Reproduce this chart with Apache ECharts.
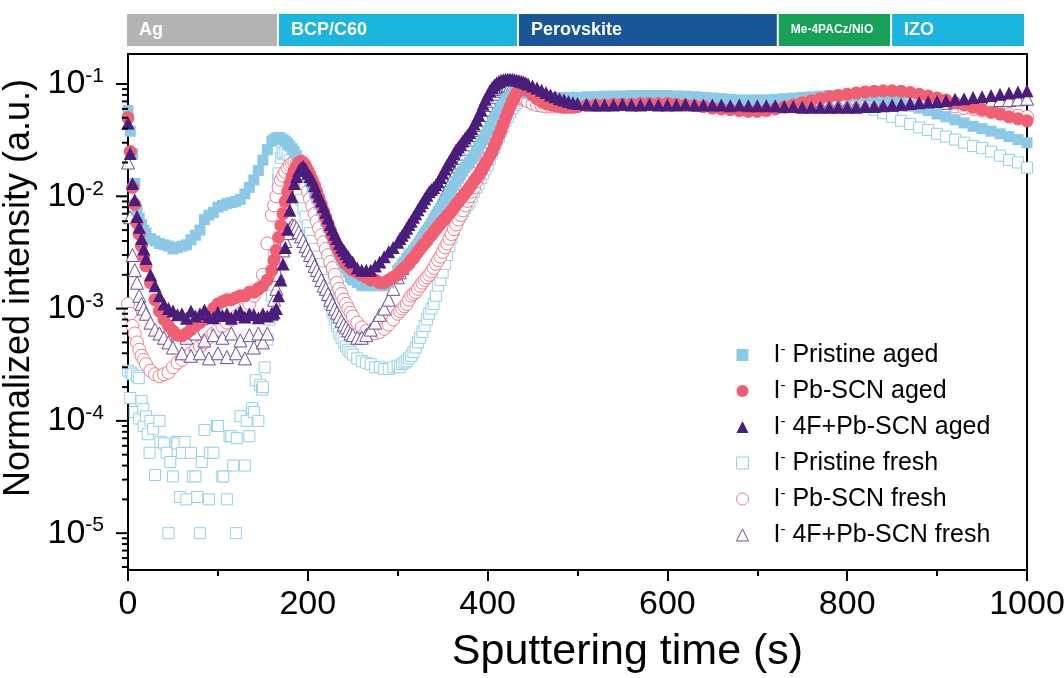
<!DOCTYPE html>
<html><head><meta charset="utf-8">
<script src="https://cdn.jsdelivr.net/npm/echarts@6/dist/echarts.min.js"></script>
<style>html,body{margin:0;padding:0;background:#fff}#c{width:1064px;height:678px}</style>
</head><body><div id="c"></div>
<script>
// ---------- data ----------
const times = [
0,5,10,15,20,25,30,35,40,45,
50,55,60,65,70,75,80,85,90,95,
100,105,110,115,120,125,130,135,140,145,
150,155,160,165,170,175,180,185,190,195,
200,205,210,215,220,225,230,235,240,245,
250,255,260,265,270,275,280,285,290,295,
300,305,310,315,320,325,330,335,340,345,
350,355,360,365,370,375,380,385,390,395,
400,405,410,415,420,425,430,435,440,445,
450,455,460,465,470,475,480,485,490,495,
500,
510,520,530,540,550,560,570,580,590,600,
610,620,630,640,650,660,670,680,690,700,
710,720,730,740,750,760,770,780,790,800,
810,820,830,840,850,860,870,880,890,900,
910,920,930,940,950,960,970,980,990,1000];

// additional sample times inside the steep parts
const midTimes = [2.5,7.5,12.5,17.5,
162.5,167.5,172.5,177.5,182.5,187.5,192.5,197.5,202.5,207.5,212.5,217.5,222.5,227.5,232.5,237.5,242.5,247.5,
302.5,307.5,312.5,317.5,322.5,327.5,332.5,337.5,342.5,347.5,352.5,357.5,362.5,367.5,372.5,377.5,382.5,387.5,392.5,397.5,402.5,407.5,412.5,417.5,422.5,427.5,432.5,437.5,442.5];

const pristineAged = [
0.058,0.024,0.0075,0.0056,0.0047,0.0042,0.004,0.0038,0.0037,0.0036,
0.0034,0.0035,0.0036,0.0037,0.0041,0.0045,0.005,0.0062,0.0068,0.0072,
0.008,0.0083,0.0086,0.0088,0.009,0.0094,0.0105,0.012,0.014,0.017,
0.021,0.026,0.031,0.033,0.033,0.031,0.028,0.025,0.021,0.018,
0.015,0.012,0.0095,0.0075,0.006,0.0047,0.0037,0.003,0.0025,0.0021,
0.0018,0.0017,0.0016,0.0016,0.0016,0.0016,0.0016,0.0016,0.0017,0.0019,
0.0022,0.0025,0.0028,0.0031,0.0035,0.004,0.0046,0.0053,0.0062,0.0072,
0.0084,0.0098,0.0115,0.0135,0.0155,0.018,0.02,0.023,0.027,0.032,
0.038,0.045,0.053,0.062,0.071,0.078,0.083,0.086,0.085,0.082,
0.079,0.077,0.076,0.076,0.075,0.075,0.075,0.075,0.076,0.076,
0.076,
0.077,0.077,0.078,0.078,0.078,0.079,0.079,0.079,0.079,0.079,
0.078,0.078,0.077,0.076,0.075,0.074,0.073,0.072,0.072,0.072,
0.072,0.073,0.074,0.075,0.076,0.077,0.078,0.079,0.079,0.078,
0.078,0.078,0.077,0.075,0.072,0.069,0.065,0.061,0.058,0.054,
0.051,0.048,0.045,0.042,0.04,0.038,0.036,0.034,0.032,0.03];
const pristineAgedMid = [0.038,0.013,0.0064,0.005,
0.032,0.0335,0.032,0.0295,0.0265,0.023,0.0195,0.0165,0.0135,0.0107,0.0085,0.0067,0.0053,0.0042,0.0033,0.0027,0.0023,0.0019,
0.0023,0.0026,0.003,0.0033,0.0037,0.0043,0.0049,0.0057,0.0067,0.0078,0.009,0.0106,0.0125,0.0145,0.0167,0.019,0.0215,0.025,0.0295,0.035,0.041,0.049,0.057,0.066,0.075,0.081,0.085,0.086,0.084];

const pbScnAged = [
0.05,0.012,0.0058,0.0036,0.0024,0.0017,0.0012,0.00095,0.0008,0.0007,
0.00063,0.00058,0.00057,0.0006,0.00065,0.0007,0.00075,0.0008,0.0009,0.001,
0.0011,0.00115,0.0012,0.0012,0.00125,0.0013,0.0013,0.0014,0.0014,0.0015,
0.0016,0.0018,0.0022,0.0033,0.0055,0.009,0.013,0.017,0.02,0.02,
0.017,0.014,0.011,0.0085,0.0065,0.005,0.0039,0.0032,0.0027,0.0024,
0.0022,0.0021,0.002,0.0019,0.0018,0.0018,0.0017,0.0017,0.0018,0.0019,
0.002,0.0022,0.0024,0.0027,0.003,0.0034,0.0038,0.0043,0.0048,0.0054,
0.006,0.0067,0.0074,0.0084,0.0095,0.0107,0.012,0.0137,0.0155,0.018,
0.021,0.025,0.031,0.039,0.05,0.063,0.077,0.087,0.09,0.087,
0.08,0.074,0.07,0.067,0.065,0.064,0.063,0.062,0.062,0.062,
0.063,
0.064,0.065,0.065,0.066,0.066,0.066,0.067,0.067,0.067,0.067,
0.066,0.065,0.064,0.063,0.061,0.06,0.059,0.058,0.057,0.057,
0.058,0.06,0.062,0.065,0.068,0.071,0.074,0.077,0.079,0.081,
0.083,0.085,0.086,0.087,0.087,0.086,0.084,0.081,0.078,0.075,
0.072,0.068,0.065,0.062,0.059,0.056,0.054,0.051,0.049,0.047];
const pbScnAgedMid = [0.025,0.0085,0.0046,0.0029,
0.0027,0.0043,0.007,0.011,0.015,0.0185,0.0205,0.0187,0.0155,0.0125,0.0097,0.0074,0.0057,0.0044,0.0035,0.0029,0.0025,0.0023,
0.0021,0.0023,0.0025,0.0028,0.0032,0.0036,0.004,0.0045,0.0051,0.0057,0.0063,0.007,0.0079,0.0089,0.01,0.0113,0.0128,0.0146,0.0167,0.0195,0.023,0.028,0.035,0.044,0.056,0.07,0.083,0.089,0.089];

const fourFAged = [
0.045,0.013,0.0066,0.0042,0.0028,0.002,0.0016,0.0013,0.0011,0.001,
0.00095,0.00088,0.0009,0.00082,0.00095,0.00086,0.0009,0.00097,0.00085,0.00083,
0.00093,0.00087,0.0009,0.00082,0.00088,0.00094,0.00084,0.0009,0.00088,0.00083,
0.0009,0.00086,0.0009,0.001,0.0018,0.0035,0.0075,0.013,0.017,0.0185,
0.016,0.014,0.011,0.0091,0.0072,0.0056,0.0046,0.0038,0.0033,0.0029,
0.0026,0.0023,0.0022,0.0022,0.0022,0.0024,0.0026,0.0029,0.0032,0.0035,
0.0039,0.0045,0.0052,0.006,0.007,0.0082,0.0095,0.011,0.012,0.0135,
0.016,0.019,0.022,0.026,0.029,0.033,0.037,0.044,0.053,0.066,
0.08,0.093,0.102,0.108,0.11,0.11,0.109,0.107,0.104,0.1,
0.096,0.092,0.088,0.084,0.08,0.077,0.074,0.072,0.07,0.068,
0.067,
0.066,0.065,0.065,0.065,0.066,0.065,0.065,0.066,0.065,0.065,
0.065,0.066,0.065,0.065,0.065,0.065,0.064,0.065,0.064,0.064,
0.064,0.064,0.063,0.063,0.062,0.062,0.062,0.062,0.062,0.062,
0.062,0.063,0.063,0.064,0.065,0.066,0.067,0.068,0.069,0.07,
0.071,0.073,0.074,0.076,0.077,0.079,0.081,0.083,0.085,0.087];
const fourFAgedMid = [0.024,0.0093,0.0053,0.0034,
0.00092,0.0013,0.0025,0.0051,0.0099,0.015,0.018,0.0175,0.015,0.0125,0.01,0.0081,0.0064,0.0051,0.0042,0.0035,0.0031,0.0027,
0.0042,0.0048,0.0056,0.0065,0.0076,0.0088,0.0102,0.0115,0.0127,0.0147,0.0175,0.0205,0.024,0.0275,0.031,0.035,0.04,0.048,0.059,0.073,0.087,0.098,0.105,0.109,0.11,0.11,0.108,0.106,0.102];

const pristineFresh = [
0.00028,0.00026,0.00025,0.00015,0.00011,0.0001,0.000033,0.0001,0.000063,0.00001,
0.000032,0.000063,0.000052,0.00002,0.000052,0.000032,0.00001,0.000083,0.00002,0.000052,
0.00009,0.000032,0.00002,0.000073,0.00001,0.00011,0.00004,0.000073,0.00012,0.0001,
0.0002,0.00053,0.0013,0.009,0.022,0.025,0.021,0.016,0.011,0.0078,
0.0055,0.004,0.0029,0.0021,0.0015,0.0011,0.0008,0.0006,0.0005,0.00043,
0.00039,0.00036,0.00034,0.00033,0.00032,0.0003,0.0003,0.00029,0.00029,0.0003,
0.00031,0.00032,0.00034,0.00038,0.00045,0.00055,0.0007,0.0009,0.0011,0.0016,
0.0021,0.003,0.0043,0.0057,0.0068,0.0079,0.009,0.011,0.013,0.016,
0.019,0.024,0.03,0.038,0.047,0.056,0.065,0.071,0.074,0.075,
0.075,0.075,0.075,0.075,0.075,0.075,0.075,0.075,0.075,0.075,
0.075,
0.075,0.076,0.076,0.077,0.077,0.077,0.077,0.077,0.077,0.077,
0.077,0.076,0.076,0.075,0.074,0.073,0.072,0.071,0.071,0.071,
0.071,0.072,0.072,0.073,0.073,0.074,0.074,0.074,0.073,0.071,
0.068,0.064,0.059,0.055,0.051,0.047,0.044,0.041,0.039,0.036,
0.034,0.032,0.03,0.028,0.027,0.025,0.023,0.021,0.02,0.018];
const pristineFreshMid = [0.00016,0.00012,0.000105,0.00009,
0.003,0.016,0.0245,0.0235,0.0185,0.0135,0.0093,0.0066,0.0047,0.0034,0.0025,0.0018,0.0013,0.00094,0.0007,0.00055,0.00046,0.00041,
0.0003,0.00033,0.00036,0.00041,0.0005,0.00062,0.0008,0.001,0.0013,0.0018,0.0025,0.0036,0.005,0.0063,0.0073,0.0084,0.01,0.012,0.0145,0.0175,0.0215,0.027,0.034,0.042,0.051,0.061,0.068,0.073,0.075];
// extra scattered pristine-fresh points in the Ag region and the first rise
const pristineFreshExtraT = [3,12,17,22,24,28,36,43,47,54,58,63,72,77,82,91,99,106,113,117,121,132,138,142,147,149,152,157,162,167,172];
const pristineFreshExtraV = [0.00027,0.00024,0.000127,0.000076,0.000052,0.000085,0.000065,0.000052,0.000043,0.000065,0.000021,0.000065,0.000032,0.000021,0.000043,0.000052,0.00009,0.000032,0.000073,0.00004,0.00007,0.0001,0.00013,0.00023,0.00021,0.00019,0.0003,0.0008,0.0025,0.014,0.024];

const pbScnFresh = [
0.0011,0.0007,0.0005,0.00038,0.00032,0.00028,0.00026,0.00025,0.00026,0.00027,
0.0003,0.00033,0.00035,0.00038,0.0004,0.00043,0.00046,0.0005,0.00055,0.0006,
0.00065,0.0007,0.00075,0.0008,0.00085,0.0009,0.001,0.0011,0.0013,0.0015,
0.002,0.0038,0.0068,0.01,0.014,0.0165,0.019,0.02,0.018,0.014,
0.011,0.0082,0.006,0.0045,0.0034,0.0026,0.002,0.0015,0.0012,0.001,
0.00085,0.00075,0.00068,0.00063,0.0006,0.0006,0.00062,0.00066,0.00072,0.0008,
0.0009,0.001,0.0011,0.0013,0.0014,0.0016,0.0018,0.002,0.0023,0.0027,
0.0032,0.0038,0.0046,0.0056,0.0068,0.0083,0.01,0.012,0.015,0.018,
0.022,0.028,0.036,0.046,0.058,0.068,0.074,0.076,0.074,0.07,
0.067,0.065,0.064,0.063,0.063,0.063,0.063,0.063,0.064,0.064,
0.064,
0.065,0.065,0.066,0.066,0.066,0.066,0.066,0.066,0.066,0.066,
0.066,0.065,0.065,0.064,0.063,0.062,0.062,0.061,0.061,0.062,
0.062,0.063,0.064,0.065,0.066,0.068,0.069,0.07,0.071,0.072,
0.073,0.074,0.074,0.074,0.073,0.072,0.07,0.069,0.067,0.066,
0.064,0.063,0.061,0.06,0.058,0.057,0.055,0.054,0.052,0.051];
const pbScnFreshMid = [0.0009,0.0006,0.00043,0.00035,
0.0083,0.012,0.0153,0.018,0.0197,0.0195,0.016,0.0125,0.0095,0.007,0.0052,0.0039,0.003,0.0023,0.0017,0.00135,0.0011,0.00092,
0.00095,0.00105,0.0012,0.00135,0.0015,0.0017,0.0019,0.00215,0.0025,0.0029,0.0035,0.0042,0.0051,0.0062,0.0075,0.0091,0.011,0.0135,0.0165,0.02,0.025,0.032,0.041,0.052,0.063,0.072,0.075,0.075,0.072];

const fourFFresh = [
0.02,0.003,0.0017,0.0011,0.0009,0.00075,0.00065,0.0006,0.00055,0.0005,
0.00045,0.0006,0.0004,0.00055,0.00038,0.0006,0.0004,0.00052,0.00036,0.00058,
0.0004,0.00055,0.00037,0.0006,0.0004,0.00052,0.00036,0.00058,0.00045,0.0006,
0.0005,0.0006,0.0009,0.0015,0.0026,0.004,0.0052,0.0055,0.0048,0.004,
0.0033,0.0027,0.0022,0.0018,0.0015,0.0012,0.001,0.00085,0.00072,0.00064,
0.00058,0.00055,0.00055,0.00058,0.00065,0.00075,0.00088,0.001,0.0012,0.0015,
0.0019,0.0023,0.0028,0.0033,0.0038,0.0044,0.005,0.0058,0.0068,0.008,
0.0095,0.0115,0.014,0.017,0.02,0.024,0.029,0.035,0.043,0.053,
0.065,0.077,0.087,0.093,0.096,0.097,0.096,0.094,0.092,0.089,
0.086,0.083,0.08,0.078,0.076,0.074,0.073,0.072,0.071,0.07,
0.069,
0.068,0.068,0.067,0.067,0.067,0.067,0.067,0.067,0.067,0.067,
0.067,0.067,0.067,0.066,0.066,0.066,0.066,0.066,0.066,0.066,
0.065,0.065,0.065,0.065,0.064,0.064,0.064,0.064,0.064,0.064,
0.064,0.064,0.064,0.065,0.065,0.066,0.066,0.067,0.067,0.068,
0.068,0.069,0.069,0.07,0.07,0.071,0.072,0.072,0.073,0.074];
const fourFFreshMid = [0.0065,0.0022,0.0013,0.001,
0.0012,0.002,0.0033,0.0047,0.0055,0.0052,0.0044,0.0036,0.003,0.0024,0.002,0.0016,0.00135,0.0011,0.00092,0.00078,0.00068,0.0006,
0.0021,0.0025,0.003,0.0035,0.0041,0.0047,0.0054,0.0063,0.0074,0.0087,0.0104,0.0127,0.0155,0.0185,0.022,0.0265,0.032,0.039,0.048,0.059,0.071,0.082,0.09,0.095,0.097,0.097,0.095,0.093,0.09];

const seriesNames = ['Pristine aged','Pb-SCN aged','4F+Pb-SCN aged','Pristine fresh','Pb-SCN fresh','4F+Pb-SCN fresh'];

const layerNames = ['Ag','BCP/C60','Perovskite','Me-4PACz/NiO','IZO'];
const layerStarts = [0,169,436,725,851];
const layerEnds = [169,436,725,851,1000];

const xTickLabels = [0,200,400,600,800,1000];
const yMajorTicks = [1e-5,1e-4,1e-3,1e-2,1e-1];
const yMinorTicks = [5e-6,6e-6,7e-6,8e-6,9e-6,
 2e-5,3e-5,4e-5,5e-5,6e-5,7e-5,8e-5,9e-5,
 2e-4,3e-4,4e-4,5e-4,6e-4,7e-4,8e-4,9e-4,
 2e-3,3e-3,4e-3,5e-3,6e-3,7e-3,8e-3,9e-3,
 2e-2,3e-2,4e-2,5e-2,6e-2,7e-2,8e-2,9e-2];

// ---------- styles ----------
const FONT = '"Liberation Sans", Arial, Helvetica, sans-serif';
const C_BLUE = '#8cc9e6', C_PINK = '#f25e72', C_PURPLE = '#4a1d7c';
const C_BLUE_O = '#8fd0ec', C_PINK_O = '#f07a8a', C_PURPLE_O = '#6b4c9c';
const layerColors = ['#b3b3b3','#1cb5e0','#1a5697','#17a058','#1cb5e0'];
const layerFont = [18,18,18,12,18];

function build(vals, mids){
  return times.map((t,i)=>[t, vals[i]])
    .concat(midTimes.map((t,i)=>[t, mids[i]]))
    .sort((a,b)=>a[0]-b[0]);
}
const pfData = build(pristineFresh, pristineFreshMid)
  .concat(pristineFreshExtraT.map((t,i)=>[t, pristineFreshExtraV[i]]))
  .sort((a,b)=>a[0]-b[0]);

function filled(name, data, symbol, size, color){
  return {name, type:'scatter', data, symbol, symbolSize:size, xAxisIndex:0, yAxisIndex:0,
    itemStyle:{color, opacity:1, borderWidth:0}, emphasis:{disabled:true}, silent:true};
}
function hollow(name, data, symbol, size, color){
  return {name, type:'scatter', data, symbol, symbolSize:size, xAxisIndex:0, yAxisIndex:0,
    itemStyle:{color:'#fff', borderColor:color, borderWidth:1, opacity:1}, emphasis:{disabled:true}, silent:true};
}
function tickSeries(vals, len){
  return {type:'custom', xAxisIndex:0, yAxisIndex:0, silent:true, clip:false, z:20,
    data: vals.map(v=>[0, v]), encode:{x:0, y:1},
    renderItem(params, api){
      const p = api.coord([0, api.value(1)]);
      return {type:'line', shape:{x1:p[0]-len, y1:p[1], x2:p[0], y2:p[1]}, style:{stroke:'#000', lineWidth:2}};
    }};
}

const chart = echarts.init(document.getElementById('c'), null, {renderer:'canvas'});
chart.setOption({
  animation:false,
  backgroundColor:'#fff',
  grid:[
    {left:128, top:54, width:899, height:516, show:true, borderColor:'#000', borderWidth:2, backgroundColor:'transparent', outerBoundsMode:'none', containLabel:false},
    {left:127, top:14, width:899, height:32, show:false, outerBoundsMode:'none', containLabel:false}
  ],
  xAxis:[
    {type:'value', gridIndex:0, min:0, max:1000, interval:200,
     axisLine:{show:true, onZero:false, lineStyle:{color:'#000', width:2}},
     axisTick:{show:true, inside:false, length:11, lineStyle:{color:'#000', width:2}},
     minorTick:{show:true, splitNumber:2, length:6, lineStyle:{color:'#000', width:2}},
     splitLine:{show:false}, minorSplitLine:{show:false},
     axisLabel:{color:'#000', fontSize:34, fontFamily:FONT, margin:18,
       formatter: v => xTickLabels.indexOf(v) >= 0 ? String(v) : ''},
     name:'Sputtering time (s)', nameLocation:'middle', nameGap:61,
     nameTextStyle:{color:'#000', fontSize:43, fontFamily:FONT, padding:[0,0,0,100]}},
    {type:'value', gridIndex:1, min:0, max:1000, show:false}
  ],
  yAxis:[
    {type:'log', gridIndex:0, min:4.7e-6, max:0.185, logBase:10,
     axisLine:{show:true, onZero:false, lineStyle:{color:'#000', width:2}},
     axisTick:{show:false}, minorTick:{show:false},
     splitLine:{show:false}, minorSplitLine:{show:false},
     axisLabel:{margin:24, showMinLabel:false, showMaxLabel:false,
       formatter: v => {
         const e = Math.log10(v), r = Math.round(e);
         if (Math.abs(e - r) > 1e-6) return '';
         return '{b|10}{e|' + r + '}';
       },
       rich:{
         b:{fontSize:34, fontFamily:FONT, color:'#000', lineHeight:36},
         e:{fontSize:21, fontFamily:FONT, color:'#000', lineHeight:21, verticalAlign:'top'}
       }},
     name:'Normalized intensity (a.u.)', nameLocation:'middle', nameGap:76, nameRotate:90,
     nameTextStyle:{color:'#000', fontSize:36, fontFamily:FONT, padding:[0,0,0,48]}},
    {type:'value', gridIndex:1, min:0, max:1, show:false}
  ],
  legend:{
    data: seriesNames,
    orient:'vertical', left:731, top:337, itemWidth:12, itemHeight:12, itemGap:10.5,
    selectedMode:false,
    itemStyle:{borderWidth:1},
    formatter: n => '{f|I}{m|-}{s| ' + n + '}',
    textStyle:{color:'#000', fontFamily:FONT, fontSize:25,
      rich:{
        f:{fontSize:25, lineHeight:26, fontFamily:FONT, color:'#000', padding:[0,0,0,20]},
        s:{fontSize:25, lineHeight:26, fontFamily:FONT, color:'#000'},
        m:{fontSize:15, lineHeight:15, fontFamily:FONT, color:'#000', verticalAlign:'top'}
      }}
  },
  series:[
    hollow(seriesNames[3], pfData, 'rect', 11, C_BLUE_O),
    hollow(seriesNames[4], build(pbScnFresh, pbScnFreshMid), 'circle', 13, C_PINK_O),
    hollow(seriesNames[5], build(fourFFresh, fourFFreshMid), 'triangle', 13, C_PURPLE_O),
    filled(seriesNames[0], build(pristineAged, pristineAgedMid), 'rect', 11, C_BLUE),
    filled(seriesNames[1], build(pbScnAged, pbScnAgedMid), 'circle', 13, C_PINK),
    filled(seriesNames[2], build(fourFAged, fourFAgedMid), 'triangle', 13, C_PURPLE),
    tickSeries(yMajorTicks, 12),
    tickSeries(yMinorTicks, 6),
    {type:'custom', xAxisIndex:1, yAxisIndex:1, silent:true,
     data: layerStarts.map((s,i)=>[s, layerEnds[i]]), encode:{x:[0,1]},
     renderItem(params, api){
       const i = params.dataIndex;
       const p0 = api.coord([api.value(0), 1]);
       const p1 = api.coord([api.value(1), 0]);
       return {type:'group', children:[
         {type:'rect', shape:{x:p0[0], y:p0[1], width:p1[0]-p0[0]-2, height:p1[1]-p0[1]}, style:{fill:layerColors[i]}},
         {type:'text', x:p0[0]+12, y:(p0[1]+p1[1])/2,
          style:{text:layerNames[i], fill:'#fff', font:'bold ' + layerFont[i] + 'px ' + FONT, verticalAlign:'middle', align:'left'}}
       ]};
     }}
  ]
});
</script></body></html>
